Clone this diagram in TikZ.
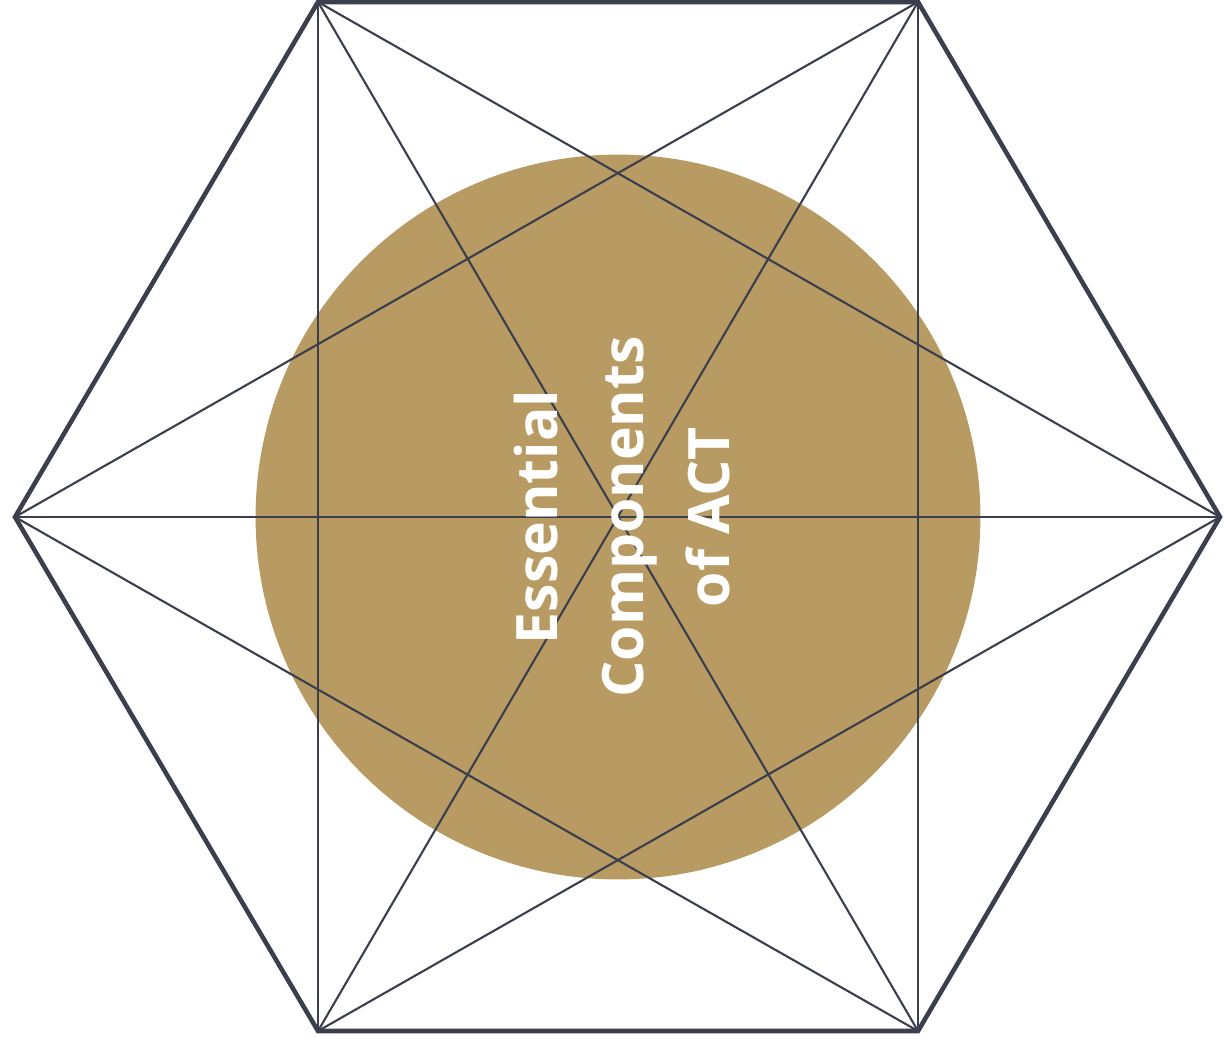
\documentclass[tikz,border=0pt]{standalone}
\usepackage{fontspec}
\newfontfamily\titlefont{Open Sans}[Ligatures=NoCommon]
\usetikzlibrary{positioning}
\definecolor{actgold}{HTML}{B89A63}
\definecolor{actline}{HTML}{3B3E4C}

\begin{document}
\begin{tikzpicture}[
  x=0.02cm, y=-0.02cm,
  rim/.style={draw=actline, line width=2.6pt, line join=miter},
  chord/.style={draw=actline, line width=1.2pt},
  disc/.style={circle, fill=actgold, minimum size=14.5cm, inner sep=0pt},
  title/.style={text=white, font=\titlefont\bfseries\fontsize{32.5}{49}\selectfont, align=center, rotate=90}
]
  \useasboundingbox (0,0) rectangle (1224,1048);
  % corners of the hexagon
  \coordinate (v1) at (318,2);
  \coordinate (v2) at (918,2);
  \coordinate (v3) at (1220,517);
  \coordinate (v4) at (918,1031);
  \coordinate (v5) at (318,1031);
  \coordinate (v6) at (15,517);
  \node[disc] (C) at (618,517) {};
  % every corner joined to every other
  \foreach \i in {1,...,6}{
    \foreach \j in {1,...,6}{
      \ifnum\i<\j \draw[chord] (v\i) -- (v\j); \fi
    }
  }
  \draw[rim] (v1) -- (v2) -- (v3) -- (v4) -- (v5) -- (v6) -- cycle;
  \node[title] (T) at (622,517) {Essential\\Components\\of ACT};
\end{tikzpicture}
\end{document}
